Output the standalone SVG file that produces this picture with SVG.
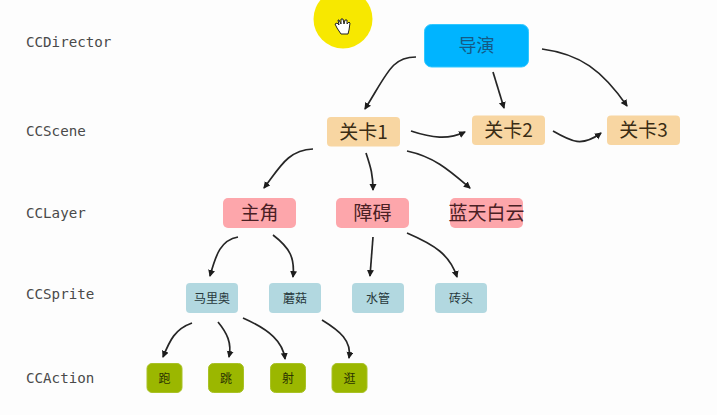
<svg xmlns="http://www.w3.org/2000/svg" width="717" height="415" viewBox="0 0 717 415">
<style>
.t{font-family:"Noto Sans CJK SC","Liberation Sans",sans-serif;text-anchor:middle}
.l{font-family:"DejaVu Sans Mono",monospace;font-size:14.2px;fill:#4a4a4a}
.d rect{fill:#00b4ff;stroke:#30c8ff}
.d text{font-size:18px;fill:#145a86}
.s rect{fill:#f8d6a2}
.s text{font-size:19px;fill:#3a2c14}
.y rect{fill:#fda6ab}
.y text{font-size:19px;fill:#4a2024}
.p rect{fill:#b2d8e0}
.p text{font-size:12px;fill:#28383c}
.a rect{fill:#9bb700;stroke:#a9c226}
.a text{font-size:12px;fill:#2c3400}
.c path{fill:none;stroke:#262626;stroke-width:1.7;marker-end:url(#h)}
</style>
<defs><marker id="h" markerUnits="userSpaceOnUse" markerWidth="8" markerHeight="8" refX="6" refY="3.500" orient="auto"><path d="M0 0L7 3.500L0 7Z" fill="#1c1c1c"/></marker></defs>
<rect width="717" height="415" fill="#fdfdfd"/>
<g id="highlight">
<circle cx="343" cy="19" r="29.500" fill="#f7e800"/>
<path d="M341 34L337 28L335 24L337 23L339 25L338 20L339 20L341 24L341 19L343 19L344 24L345 20L347 20L347 24L349 22L350 23L349 30L348 34Z" fill="#fff" stroke="#222" stroke-width="1"/>
</g>
<g id="labels">
<text class="l" x="26" y="47">CCDirector</text>
<text class="l" x="26" y="136">CCScene</text>
<text class="l" x="26" y="218">CCLayer</text>
<text class="l" x="26" y="299">CCSprite</text>
<text class="l" x="26" y="383">CCAction</text>
</g>
<g id="connectors" class="c">
<path d="M416 57C392 57 388 72 365 109"/>
<path d="M493 72L504 108"/>
<path d="M542 49C580 54 602 70 627 106"/>
<path d="M411 131C432 138 448 140 465 132"/>
<path d="M553 131C572 142 582 147 601 133"/>
<path d="M313 149C288 150 280 167 264 188"/>
<path d="M366 153C371 168 373 175 373 190"/>
<path d="M407 151C435 157 450 171 470 188"/>
<path d="M238 237C221 240 216 254 210 276"/>
<path d="M273 235C290 248 295 258 293 277"/>
<path d="M373 237L370 276"/>
<path d="M407 233C435 245 450 255 457 277"/>
<path d="M192 323C175 329 170 340 163 357"/>
<path d="M218 322C227 333 232 343 229 357"/>
<path d="M243 318C270 330 283 342 285 359"/>
<path d="M322 320C340 331 352 341 349 358"/>
</g>
<g id="n-director" class="d"><rect x="424.500" y="24.500" width="104" height="42.500" rx="7"/><text class="t" x="476.500" y="52">导演</text></g>
<g id="n-scene1" class="s"><rect x="327" y="117" width="73" height="29.500" rx="4"/><text class="t" x="363.500" y="138.500">关卡1</text></g>
<g id="n-scene2" class="s"><rect x="472" y="115.500" width="73" height="29.500" rx="4"/><text class="t" x="508.500" y="137">关卡2</text></g>
<g id="n-scene3" class="s"><rect x="607" y="115.500" width="73" height="29.500" rx="4"/><text class="t" x="643.500" y="137">关卡3</text></g>
<g id="n-hero" class="y"><rect x="223" y="198" width="73" height="30" rx="5"/><text class="t" x="259.500" y="220">主角</text></g>
<g id="n-obstacle" class="y"><rect x="336" y="198" width="73" height="30" rx="5"/><text class="t" x="372.500" y="220">障碍</text></g>
<g id="n-sky" class="y"><rect x="450" y="198" width="73" height="30" rx="5"/><text class="t" x="486.500" y="220">蓝天白云</text></g>
<g id="n-mario" class="p"><rect x="186" y="283" width="52" height="30" rx="4"/><text class="t" x="212" y="302.500">马里奥</text></g>
<g id="n-mushroom" class="p"><rect x="269" y="283" width="52" height="30" rx="4"/><text class="t" x="295" y="302.500">蘑菇</text></g>
<g id="n-pipe" class="p"><rect x="352" y="283" width="52" height="30" rx="4"/><text class="t" x="378" y="302.500">水管</text></g>
<g id="n-brick" class="p"><rect x="435" y="283" width="52" height="30" rx="4"/><text class="t" x="461" y="302.500">砖头</text></g>
<g id="n-run" class="a"><rect x="147" y="363.500" width="35" height="29" rx="5"/><text class="t" x="164.500" y="382.500">跑</text></g>
<g id="n-jump" class="a"><rect x="208.500" y="363.500" width="35" height="29" rx="5"/><text class="t" x="226" y="382.500">跳</text></g>
<g id="n-shoot" class="a"><rect x="270.500" y="363.500" width="35" height="29" rx="5"/><text class="t" x="288" y="382.500">射</text></g>
<g id="n-stroll" class="a"><rect x="332" y="363.500" width="35" height="29" rx="5"/><text class="t" x="349.500" y="382.500">逛</text></g>
</svg>
